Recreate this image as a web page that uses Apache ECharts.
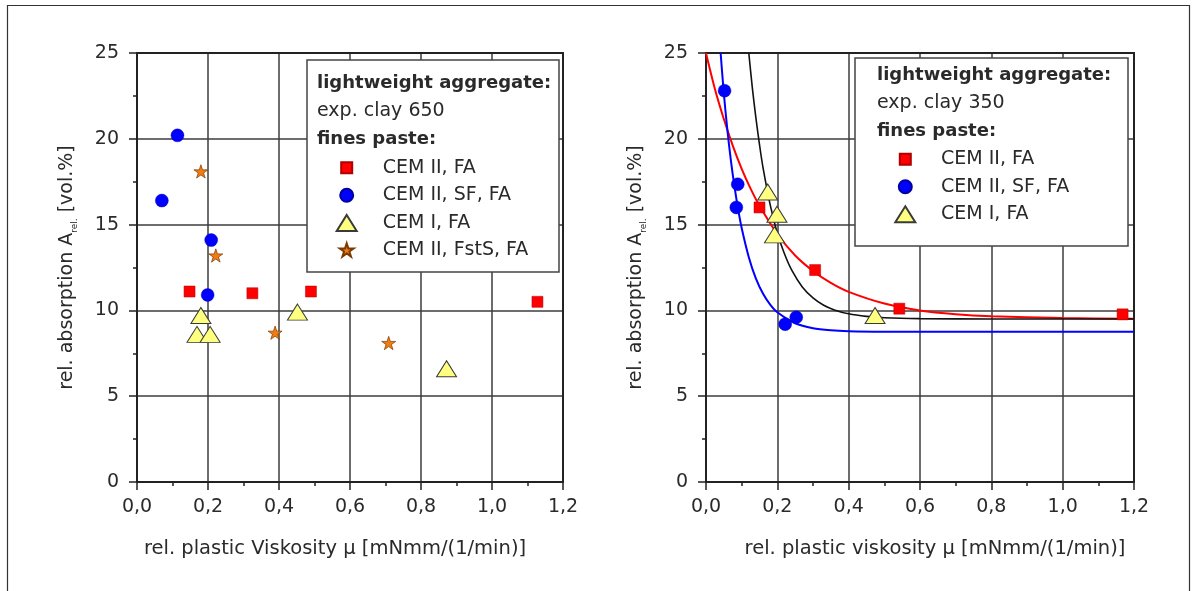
<!DOCTYPE html>
<html>
<head>
<meta charset="utf-8">
<script src="https://cdn.jsdelivr.net/npm/echarts@6/dist/echarts.min.js"></script>
<style>
  html, body { margin: 0; padding: 0; background: #fff; }
  #chart { width: 1195px; height: 591px; }
</style>
</head>
<body>
<div id="chart"></div>
<script>
// Axis ranges (both panels share the same scales)
const xRange = [0, 1.2];
const yRange = [0, 25];

// Left panel: expanded clay 650 — [viscosity, absorption]
const leftCemIIFA = [[0.148, 11.1], [0.325, 11.0], [0.49, 11.1], [1.128, 10.5]];
const leftCemIISFFA = [[0.114, 20.2], [0.07, 16.4], [0.209, 14.1], [0.199, 10.9]];
const leftCemIFA = [[0.18, 9.7], [0.169, 8.6], [0.206, 8.6], [0.452, 9.9], [0.872, 6.6]];
const leftCemIIFstSFA = [[0.18, 18.1], [0.222, 13.2], [0.389, 8.7], [0.709, 8.1]];

// Right panel: expanded clay 350 — measured points
const rightCemIIFA = [[0.15, 16.0], [0.306, 12.35], [0.542, 10.1], [1.168, 9.77]];
const rightCemIISFFA = [[0.052, 22.8], [0.089, 17.35], [0.085, 16.0], [0.222, 9.2], [0.253, 9.6]];
const rightCemIFA = [[0.173, 16.9], [0.199, 15.6], [0.192, 14.4], [0.474, 9.7]];

// Right panel: fitted decay curves
const curveCemIIFA = [[0, 25], [0.025, 22.9], [0.05, 21.15], [0.075, 19.6], [0.1, 18.25], [0.125, 17.1],
  [0.15, 16.1], [0.2, 14.45], [0.25, 13.2], [0.3, 12.3], [0.35, 11.6], [0.4, 11.08], [0.5, 10.4],
  [0.6, 10.0], [0.7, 9.78], [0.8, 9.66], [1.0, 9.55], [1.2, 9.52]];
const curveCemIISFFA = [[0.041, 25], [0.05, 22.65], [0.06, 20.5], [0.07, 18.7], [0.08, 17.2], [0.09, 15.9],
  [0.1, 14.8], [0.12, 13.1], [0.14, 11.85], [0.16, 10.97], [0.18, 10.34], [0.2, 9.89], [0.25, 9.25],
  [0.3, 8.96], [0.35, 8.84], [0.4, 8.79], [0.5, 8.76], [0.7, 8.75], [1.2, 8.75]];
const curveCemIFA = [[0.12, 25], [0.13, 22.95], [0.14, 21.2], [0.15, 19.66], [0.16, 18.3], [0.18, 16.15],
  [0.2, 14.5], [0.22, 13.3], [0.24, 12.36], [0.27, 11.37], [0.3, 10.73], [0.33, 10.3], [0.36, 10.03],
  [0.4, 9.8], [0.45, 9.65], [0.5, 9.57], [0.6, 9.52], [0.8, 9.5], [1.2, 9.5]];

// Legend texts
const leftHeader = ['lightweight aggregate:', 'exp. clay 650', 'fines paste:'];
const rightHeader = ['lightweight aggregate:', 'exp. clay 350', 'fines paste:'];
const leftLegend = ['CEM II, FA', 'CEM II, SF, FA', 'CEM I, FA', 'CEM II, FstS, FA'];
const rightLegend = ['CEM II, FA', 'CEM II, SF, FA', 'CEM I, FA'];

// Axis titles
const xTitleLeft = 'rel. plastic Viskosity μ [mNmm/(1/min)]';
const xTitleRight = 'rel. plastic viskosity μ [mNmm/(1/min)]';
const yTitle = '{n|rel. absorption A}{s|rel.}{n| [vol.%]}';

const FONT = 'DejaVu Sans';
const TXT = '#2a2a2a';
const AXIS = '#222';
const GRIDC = '#3c3c3c';
const LEGEND_LINE = 20;

const starPath = 'path://M50,0 L61.2,34.5 L97.6,34.5 L68.2,55.9 L79.4,90.5 L50,69.1 L20.6,90.5 L31.8,55.9 L2.4,34.5 L38.8,34.5 Z';

const markers = {
  'CEM II, FA': { symbol: 'rect', symbolSize: 11, symbolKeepAspect: true,
    itemStyle: { color: '#ff0000', borderColor: '#b00000', borderWidth: 0.5, opacity: 1 } },
  'CEM II, SF, FA': { symbol: 'circle', symbolSize: 13, symbolKeepAspect: true,
    itemStyle: { color: '#0000ff', borderColor: '#0000a0', borderWidth: 0.4, opacity: 1 } },
  'CEM I, FA': { symbol: 'triangle', symbolSize: [20, 16], symbolKeepAspect: false,
    itemStyle: { color: '#ffff80', borderColor: '#3a3a3a', borderWidth: 1, opacity: 1 } },
  'CEM II, FstS, FA': { symbol: starPath, symbolSize: 14, symbolKeepAspect: true,
    itemStyle: { color: '#f07c12', borderColor: '#7a3a00', borderWidth: 0.7, opacity: 1 } }
};
// Legend icon box per series [width, height]
const legendIconSize = {
  'CEM II, FA': [11, 11],
  'CEM II, SF, FA': [13, 13],
  'CEM I, FA': [20, 16],
  'CEM II, FstS, FA': [14, 14]
};

function scatter(name, data, xi, yi) {
  return Object.assign({ type: 'scatter', name: name, data: data,
    xAxisIndex: xi, yAxisIndex: yi, z: 4 }, markers[name]);
}
function curve(name, data, color, width, xi, yi) {
  return { type: 'line', name: name, data: data, xAxisIndex: xi, yAxisIndex: yi,
    showSymbol: false, symbol: 'none', smooth: 0.3, clip: true, z: 3,
    lineStyle: { color: color, width: width }, silent: true };
}

function mainX(grid, title, shift) {
  return {
    type: 'value', gridIndex: grid, min: xRange[0], max: xRange[1], interval: 0.2,
    position: 'bottom',
    axisLine: { show: true, onZero: false, lineStyle: { color: AXIS, width: 2 } },
    axisTick: { show: true, inside: false, length: 8, lineStyle: { color: AXIS, width: 1.5 } },
    minorTick: { show: true, splitNumber: 2, length: 4, lineStyle: { color: AXIS, width: 1.5 } },
    splitLine: { show: true, lineStyle: { color: GRIDC, width: 1.5 } },
    axisLabel: { margin: 16, fontFamily: FONT, fontSize: 19, color: TXT,
      showMinLabel: true, showMaxLabel: true,
      formatter: v => v.toFixed(1).replace('.', ',') },
    name: title, nameLocation: 'middle', nameGap: 57,
    nameTextStyle: { fontFamily: FONT, fontSize: 19.5, color: TXT,
      padding: shift < 0 ? [0, -2 * shift, 0, 0] : [0, 0, 0, 2 * shift] }
  };
}
function frameX(grid) {
  return { type: 'value', gridIndex: grid, min: xRange[0], max: xRange[1], position: 'top',
    axisLine: { show: true, onZero: false, lineStyle: { color: AXIS, width: 2 } },
    axisTick: { show: false }, axisLabel: { show: false }, splitLine: { show: false } };
}
function mainY(grid, gap) {
  return {
    type: 'value', gridIndex: grid, min: yRange[0], max: yRange[1], interval: 5,
    position: 'left',
    axisLine: { show: true, onZero: false, lineStyle: { color: AXIS, width: 2 } },
    axisTick: { show: true, inside: false, length: 8, lineStyle: { color: AXIS, width: 1.5 } },
    minorTick: { show: true, splitNumber: 2, length: 4, lineStyle: { color: AXIS, width: 1.5 } },
    splitLine: { show: true, lineStyle: { color: GRIDC, width: 1.5 } },
    axisLabel: { margin: 18, fontFamily: FONT, fontSize: 19, color: TXT,
      showMinLabel: true, showMaxLabel: true },
    name: yTitle, nameLocation: 'middle', nameRotate: 90, nameGap: gap,
    nameTextStyle: {
      rich: {
        n: { fontFamily: FONT, fontSize: 19, color: TXT, lineHeight: 24 },
        s: { fontFamily: FONT, fontSize: 9, color: TXT, lineHeight: 24, verticalAlign: 'bottom' }
      }
    }
  };
}
function frameY(grid) {
  return { type: 'value', gridIndex: grid, min: yRange[0], max: yRange[1], position: 'right',
    axisLine: { show: true, onZero: false, lineStyle: { color: AXIS, width: 2 } },
    axisTick: { show: false }, axisLabel: { show: false }, splitLine: { show: false } };
}

function headerTexts(x, ys, lines) {
  return lines.map((t, i) => ({
    type: 'text', x: x, y: ys[i], z: 20,
    style: { text: t, fontFamily: FONT, fontSize: i === 1 ? 19 : 18, fontWeight: i === 1 ? 'normal' : 'bold',
      fill: TXT, verticalAlign: 'middle', align: 'left' }
  }));
}
function legendBox(x1, y1, x2, y2) {
  return { type: 'rect', z: 15, shape: { x: x1, y: y1, width: x2 - x1, height: y2 - y1 },
    style: { fill: '#fff', stroke: '#444', lineWidth: 1.5 } };
}
// One legend component per entry so each icon keeps its own marker size;
// the entry's box is as tall as the text line, with icon and text centred on the row
function legendItems(names, markerX, textX, rows) {
  return names.map((n, i) => {
    const w = legendIconSize[n][0], h = legendIconSize[n][1];
    return {
      data: [n], orient: 'vertical', left: markerX - w / 2, top: rows[i] - LEGEND_LINE / 2, padding: 0, z: 25,
      itemWidth: w, itemHeight: h, selectedMode: false,
      textStyle: { fontFamily: FONT, fontSize: 19, color: TXT, lineHeight: LEGEND_LINE,
        padding: [0, 0, 0, textX - (markerX + w / 2) - 5] }
    };
  });
}

const chart = echarts.init(document.getElementById('chart'), null, { renderer: 'canvas' });
chart.setOption({
  animation: false,
  backgroundColor: '#fff',
  grid: [
    { left: 137, right: 632, top: 53, bottom: 109, containLabel: false },
    { left: 706, right: 61, top: 53, bottom: 109, containLabel: false }
  ],
  xAxis: [mainX(0, xTitleLeft, -15), frameX(0), mainX(1, xTitleRight, 15), frameX(1)],
  yAxis: [mainY(0, 58), frameY(0), mainY(1, 58), frameY(1)],
  legend: [
    ...legendItems(leftLegend, 345.7, 381.7, [167.7, 195.3, 223, 250]),
    ...legendItems(rightLegend, 904.3, 940, [159.3, 186.7, 214.3])
  ],
  series: [
    scatter('CEM II, FA', leftCemIIFA, 0, 0),
    scatter('CEM II, SF, FA', leftCemIISFFA, 0, 0),
    scatter('CEM I, FA', leftCemIFA, 0, 0),
    scatter('CEM II, FstS, FA', leftCemIIFstSFA, 0, 0),
    curve('fit CEM II, FA', curveCemIIFA, '#ff0000', 2, 2, 2),
    curve('fit CEM II, SF, FA', curveCemIISFFA, '#0000ff', 2, 2, 2),
    curve('fit CEM I, FA', curveCemIFA, '#111111', 1.6, 2, 2),
    scatter('CEM II, FA', rightCemIIFA, 2, 2),
    scatter('CEM II, SF, FA', rightCemIISFFA, 2, 2),
    scatter('CEM I, FA', rightCemIFA, 2, 2)
  ],
  graphic: [
    { type: 'rect', z: 0, silent: true, shape: { x: 7.5, y: 5.5, width: 1182, height: 600 },
      style: { fill: 'none', stroke: '#333', lineWidth: 1.2 } },
    legendBox(307, 60, 559, 272),
    legendBox(855, 58, 1128, 246),
    ...headerTexts(317, [83.5, 111, 139.5], leftHeader),
    ...headerTexts(877, [75, 103, 131.5], rightHeader)
  ]
});
</script>
</body>
</html>
